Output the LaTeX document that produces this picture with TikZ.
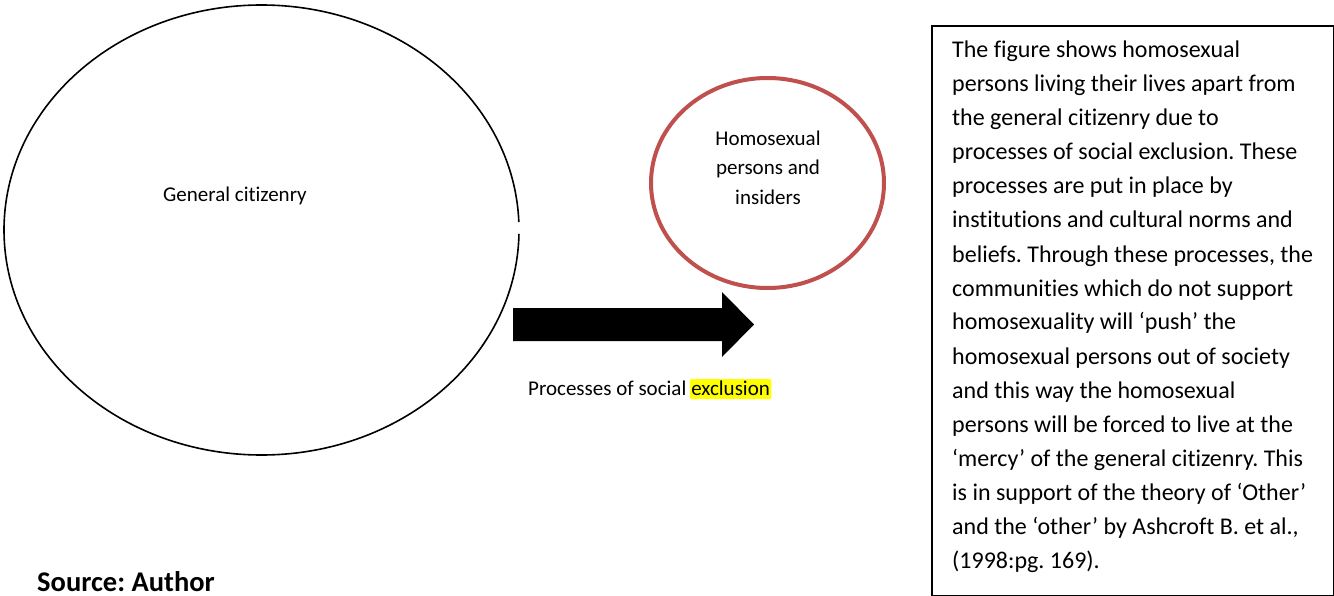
\documentclass[tikz,border=0pt]{standalone}
\usepackage{fontspec}
\setmainfont{Carlito}[Ligatures=CommonOff]
\frenchspacing
\begin{document}
\begin{tikzpicture}[x=1pt,y=-1pt,
  bodytext/.style={inner sep=0pt,font=\fontsize{24}{34}\selectfont,anchor=base west},
  smalltext/.style={inner sep=0pt,font=\fontsize{21}{26}\selectfont},
  redring/.style={draw=ringred,line width=4pt}]
\definecolor{ringred}{HTML}{C0504D}
\definecolor{marker}{HTML}{FFFF00}
\useasboundingbox (0,0) rectangle (1334,596);

% general citizenry
\draw[line width=1.6pt] (261.5,230) ++(1:257.5 and 225) arc[start angle=1,end angle=358,x radius=257.5,y radius=225];
\node[smalltext,anchor=base west] (gen) at (163,202) {General citizenry};

% the excluded group
\draw[redring] (767.5,183) ellipse[x radius=116.5,y radius=105];
\node[smalltext,anchor=base] (h1) at (768,146) {Homosexual};
\node[smalltext,anchor=base] (h2) at (768,175) {persons and};
\node[smalltext,anchor=base] (h3) at (768,205) {insiders};

% block arrow
\fill[black] (513,308) -- (722,308) -- (722,292) -- (754,324.5) -- (722,357) -- (722,341) -- (513,341) -- cycle;
\node[smalltext,anchor=base west] (proc) at (528,395) {Processes of social};
\node[smalltext,anchor=base west,fill=marker,inner xsep=1.5pt,text height=16pt,text depth=4pt,rounded corners=2pt]
  (excl) at ([xshift=3pt]proc.base east) {exclusion};

% explanatory box
\draw[line width=1.2pt] (932,26) rectangle (1333.4,595.4);
\foreach \t [count=\i from 0] in {%
  {The figure shows homosexual},
  {persons living their lives apart from},
  {the general citizenry due to},
  {processes of social exclusion. These},
  {processes are put in place by},
  {institutions and cultural norms and},
  {beliefs. Through these processes, the},
  {communities which do not support},
  {homosexuality will ‘push’ the},
  {homosexual persons out of society},
  {and this way the homosexual},
  {persons will be forced to live at the},
  {‘mercy’ of the general citizenry. This},
  {is in support of the theory of ‘Other’},
  {and the ‘other’ by Ashcroft B. et al.,},
  {(1998:pg. 169).}}
  \node[bodytext] (line\i) at (952,58+34*\i) {\t};

\node[inner sep=0pt,anchor=base west,font=\fontsize{28.5}{32}\selectfont\bfseries] (src) at (37,591) {Source: Author};
\end{tikzpicture}
\end{document}
